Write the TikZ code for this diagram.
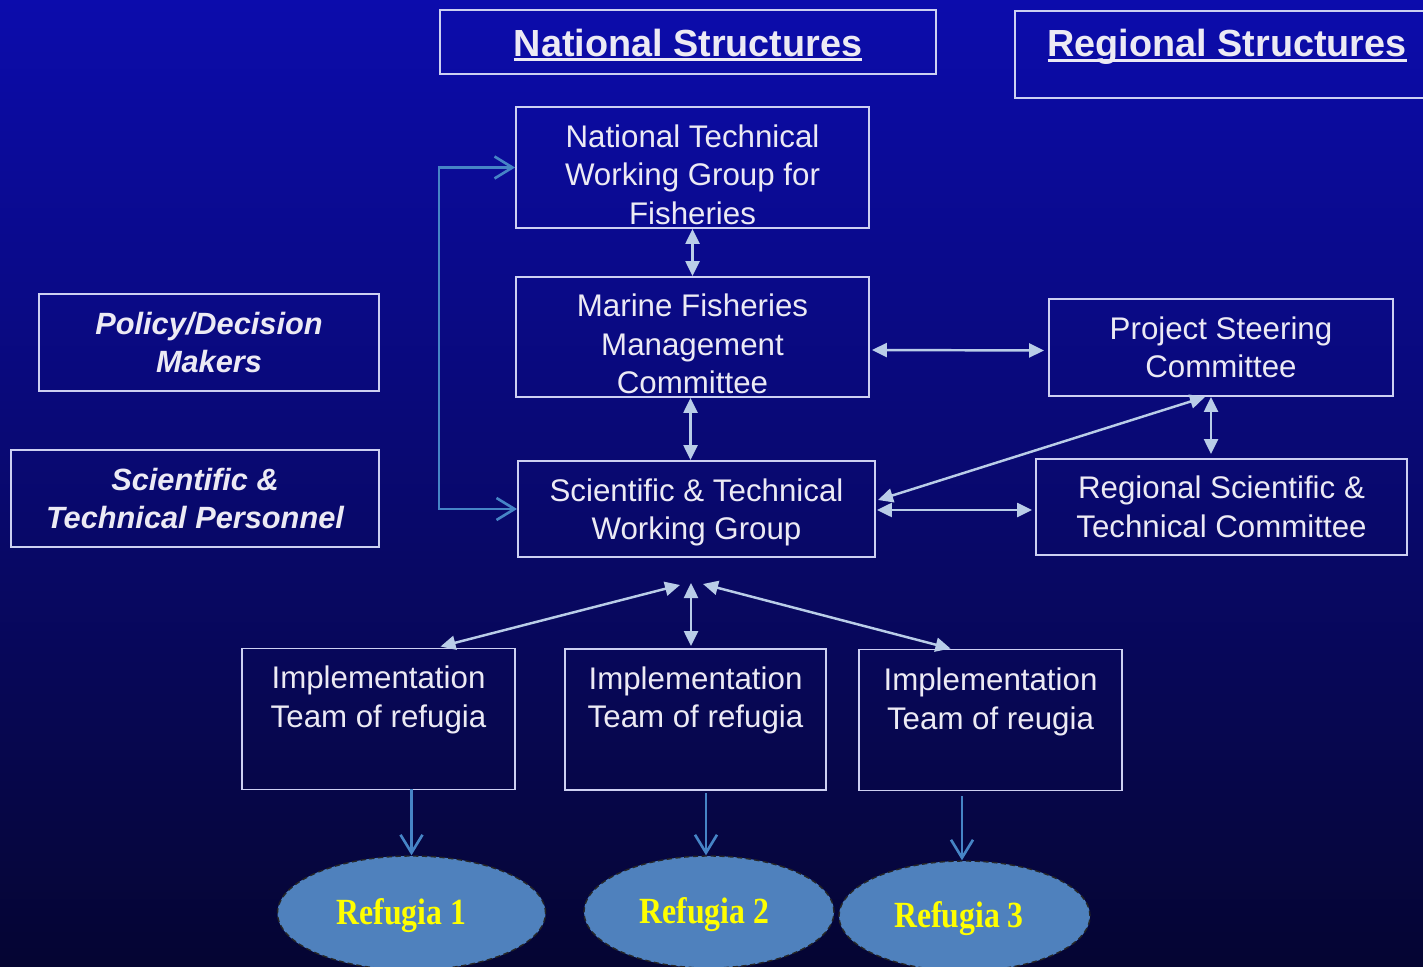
\documentclass[tikz,border=0pt]{standalone}
\usepackage{fontspec}
\setmainfont{Liberation Sans}
\newfontfamily\refugiafont[FakeStretch=0.86]{Liberation Serif}
\usetikzlibrary{arrows.meta,positioning,calc,shapes.geometric}

\definecolor{bgTop}{RGB}{12,12,172}
\definecolor{bgMid}{RGB}{8,8,125}
\definecolor{bgBot}{RGB}{5,5,50}
\definecolor{lineCol}{RGB}{205,208,242}
\definecolor{textCol}{RGB}{236,234,244}
\definecolor{linkCol}{RGB}{185,205,232}
\definecolor{teamCol}{RGB}{70,132,198}
\definecolor{refFill}{RGB}{79,129,189}
\definecolor{refText}{RGB}{255,255,0}

% underlined heading (thick rule)
\newsavebox{\ttlbox}
\newcommand{\ulTitle}[1]{\sbox\ttlbox{#1}\rlap{\rule[-0.1cm]{\wd\ttlbox}{0.06cm}}\usebox\ttlbox}
% invisible strut to push a text block down a little
\newcommand{\topgap}[1]{\rule{0pt}{#1}}

\begin{document}
\begin{tikzpicture}[
  x=0.2mm, y=-0.2mm,
  font=\fontsize{17.8}{21.9}\selectfont,
  box/.style     ={draw=lineCol, line width=1.1pt, text=textCol, align=center, inner sep=0pt},
  hdbox/.style   ={box, font=\fontsize{17.5}{21.5}\selectfont\bfseries\itshape},
  titlebox/.style={box, font=\fontsize{21.5}{24}\selectfont\bfseries},
  teambox/.style ={box, minimum height=28.2mm},
  teamtxt/.style ={text=textCol, align=center, inner sep=0pt},
  refugia/.style ={ellipse, draw=black!85, densely dashed, line width=0.8pt, fill=refFill,
                   text=refText, font=\refugiafont\bfseries\fontsize{21}{24}\selectfont},
  link/.style    ={{Triangle[length=3mm,width=2.8mm]}-{Triangle[length=3mm,width=2.8mm]},
                   color=linkCol, line width=1.4pt},
  feed/.style    ={-{Straight Barb[length=3.6mm,width=4.4mm]}, color=teamCol, line width=1.5pt},
  feedboth/.style={{Straight Barb[length=3.6mm,width=4.4mm]}-{Straight Barb[length=3.6mm,width=4.4mm]},
                   color=teamCol, line width=1.5pt}
]

% ==================================================
% BACKGROUND
% ==================================================
\useasboundingbox (0,0) rectangle (1423,967);
\shade[top color=bgTop, middle color=bgMid, bottom color=bgBot] (0,0) rectangle (1423,967);

% ==================================================
% HEADINGS
% ==================================================
\node[titlebox, minimum width=99.2mm, minimum height=12.8mm] (natTitle) at (688,42)
  {\topgap{6.7mm}\ulTitle{National Structures}};
\node[titlebox, minimum width=85.2mm, minimum height=17.4mm, anchor=north west] (regTitle) at (1014,10) {};
\node[titlebox, draw=none] (regTitleTxt) at (1227,47) {\ulTitle{Regional Structures}};

% ==================================================
% LEFT COLUMN (levels)
% ==================================================
\node[hdbox, minimum width=68mm, minimum height=19.4mm] (policy) at (209,342.5)
  {Policy/Decision\\Makers};
\node[hdbox, minimum width=73.6mm, minimum height=19.4mm] (sciPers) at (195,498.5)
  {Scientific \&\\Technical Personnel};

% ==================================================
% NATIONAL STRUCTURES
% ==================================================
\node[box, minimum width=70.6mm, minimum height=24.2mm] (ntwg) at (692.5,167.5)
  {\topgap{7.4mm}National Technical\\Working Group for\\Fisheries};
\node[box, minimum width=70.6mm, minimum height=24mm] (mfmc) at (692.5,337)
  {\topgap{7.4mm}Marine Fisheries\\Management\\Committee};
\node[box, minimum width=71.4mm, minimum height=19.2mm] (stwg) at (696.5,509)
  {\topgap{6mm}Scientific \& Technical\\Working Group};

% ==================================================
% REGIONAL STRUCTURES
% ==================================================
\node[box, minimum width=68.8mm, minimum height=19.4mm] (psc) at (1221,347.5)
  {Project Steering\\Committee};
\node[box, minimum width=74.2mm, minimum height=19.2mm] (rstc) at (1221.5,507)
  {Regional Scientific \&\\Technical Committee};

% ==================================================
% IMPLEMENTATION TEAMS + REFUGIA
% ==================================================
\node[teambox, minimum width=54.6mm] (team1) at (378.5,719) {};
\node[teambox, minimum width=52.2mm] (team2) at (695.5,719.5) {};
\node[teambox, minimum width=52.6mm] (team3) at (990.5,720) {};
\node[teamtxt, below=3.6mm of team1.north] (team1txt) {Implementation\\Team of refugia};
\node[teamtxt, below=3.6mm of team2.north] (team2txt) {Implementation\\Team of refugia};
\node[teamtxt, below=3.8mm of team3.north] (team3txt) {Implementation\\Team of reugia};

\node[refugia, minimum width=53.6mm, minimum height=22.8mm] (ref1) at (411.5,913)
  {\topgap{6.2mm}Refugia 1\kern4mm};
\node[refugia, minimum width=50mm,   minimum height=22.4mm] (ref2) at (709,912)
  {\topgap{6.2mm}Refugia 2\kern1.8mm};
\node[refugia, minimum width=50.2mm, minimum height=22mm]   (ref3) at (964.5,916)
  {\topgap{6.2mm}Refugia 3\kern2.2mm};

% free point where the team links meet
\coordinate (hub) at (691,583);

% ==================================================
% CONNECTORS
% ==================================================
\draw[feedboth] (ntwg.west) -- ++(-76,0) |- (stwg.west);

\draw[link] (ntwg.south) -- (mfmc.north);
\draw[link] ($(mfmc.south)+(-2,0)$) -- ($(stwg.north)+(-6,0)$);
\draw[link] ($(mfmc.east)+(2,13)$) -- ($(psc.west)+(-4,3)$);
\draw[link] ($(stwg.east)+(1,1)$) -- ($(rstc.west)+(-3,3)$);
\draw[link] ($(stwg.east)+(2,-9)$) -- ($(psc.south)+(-16,0)$);
\draw[link] ($(psc.south)+(-10,0)$) -- ($(rstc.north)+(-10.5,-4)$);

% hub <-> teams
\draw[link] ($(hub)+(-11,2)$) -- ($(team1.north)+(62,-1)$);
\draw[link] (hub) -- ($(team2.north)+(-4.5,-2)$);
\draw[link] ($(hub)+(12,1)$) -- ($(team3.north)+(-40,0)$);

% teams -> refugia
\draw[feed] ($(ref1.north)+(0,-66)$) -- (ref1.north);
\draw[feed] ($(ref2.north)+(-3,-62)$) -- ($(ref2.north)+(-3,0)$);
\draw[feed] ($(ref3.north)+(-2.5,-64)$) -- ($(ref3.north)+(-2.5,0)$);

\end{tikzpicture}
\end{document}
